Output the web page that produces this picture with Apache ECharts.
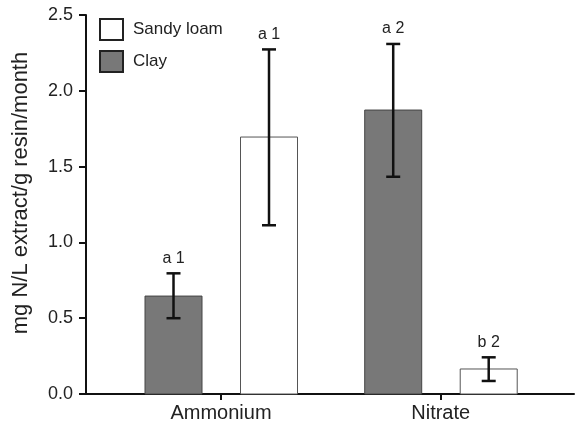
<!DOCTYPE html>
<html>
<head>
<meta charset="utf-8">
<script src="https://cdn.jsdelivr.net/npm/echarts@6/dist/echarts.min.js"></script>
<style>html,body{margin:0;padding:0;background:#fff}#c{width:576px;height:426px}</style>
</head>
<body>
<div id="c"></div>
<script>
var categories = ['Ammonium', 'Nitrate'];
var clayValues = [0.646, 1.873];
var clayLow = [0.50, 1.433];
var clayHigh = [0.796, 2.309];
var clayLetters = ['a 1', 'a 2'];
var sandyValues = [1.695, 0.165];
var sandyLow = [1.113, 0.086];
var sandyHigh = [2.273, 0.242];
var sandyLetters = ['a 1', 'b 2'];
var yTicks = [0, 0.5, 1.0, 1.5, 2.0, 2.5];

var FONT = 'Liberation Sans, Arial, sans-serif';
var BAR_W = 57;

function barData(vals) { return vals.map(function (v, i) { return [i + 1, v]; }); }
function errData(lo, hi, letters) { return lo.map(function (l, i) { return [i + 1, l, hi[i], letters[i]]; }); }

function makeBarRender(offset, fill, stroke) {
  return function (params, api) {
    var base = api.coord([api.value(0), 0]);
    var top = api.coord([api.value(0), api.value(1)]);
    return {
      type: 'rect',
      shape: { x: base[0] + offset - BAR_W / 2, y: top[1], width: BAR_W, height: base[1] - top[1] },
      style: { fill: fill, stroke: stroke, lineWidth: 1 }
    };
  };
}
function makeErrRender(offset) {
  return function (params, api) {
    var lo = api.coord([api.value(0), api.value(1)]);
    var hi = api.coord([api.value(0), api.value(2)]);
    var x = lo[0] + offset;
    var cap = 7;
    var ls = { stroke: '#111', lineWidth: 2.5 };
    return {
      type: 'group',
      children: [
        { type: 'line', shape: { x1: x, y1: lo[1], x2: x, y2: hi[1] }, style: ls },
        { type: 'line', shape: { x1: x - cap, y1: lo[1], x2: x + cap, y2: lo[1] }, style: ls },
        { type: 'line', shape: { x1: x - cap, y1: hi[1], x2: x + cap, y2: hi[1] }, style: ls },
        { type: 'text', style: { text: api.value(3), x: x, y: hi[1] - 7, align: 'center', verticalAlign: 'bottom', fill: '#222', font: '16px ' + FONT } }
      ]
    };
  };
}

var chart = echarts.init(document.getElementById('c'), null, { renderer: 'canvas' });
chart.setOption({
  animation: false,
  backgroundColor: '#fff',
  textStyle: { fontFamily: FONT },
  grid: { left: 86, right: 2, top: 15, bottom: 32 },
  legend: {
    orient: 'vertical', left: 94, top: 13,
    itemWidth: 23, itemHeight: 21, itemGap: 9,
    selectedMode: false,
    textStyle: { fontSize: 17, color: '#222', fontFamily: FONT, padding: [0, 0, 0, 5] },
    data: [
      { name: 'Sandy loam', icon: 'rect', itemStyle: { color: '#fff', borderColor: '#222', borderWidth: 2 } },
      { name: 'Clay', icon: 'rect', itemStyle: { color: '#787878', borderColor: '#222', borderWidth: 2 } }
    ]
  },
  xAxis: {
    type: 'value', min: 0.3855, max: 2.6067,
    splitLine: { show: false },
    axisLine: { show: true, lineStyle: { color: '#111', width: 2 } },
    axisTick: { show: true, customValues: [1, 2], length: 6, lineStyle: { color: '#111', width: 2 } },
    axisLabel: { customValues: [1, 2], formatter: function (v) { return categories[Math.round(v) - 1]; }, fontSize: 20, color: '#222', margin: 9, fontFamily: FONT }
  },
  yAxis: {
    type: 'value', min: 0, max: 2.5, interval: 0.5,
    name: 'mg N/L extract/g resin/month', nameLocation: 'middle', nameGap: 54,
    nameTextStyle: { fontSize: 22, color: '#222', fontFamily: FONT, padding: [0, 0, 0, 23] },
    splitLine: { show: false },
    axisLine: { show: true, lineStyle: { color: '#111', width: 2 } },
    axisTick: { show: true, length: 7, lineStyle: { color: '#111', width: 2 } },
    axisLabel: { customValues: yTicks, formatter: function (v) { return v.toFixed(1); }, fontSize: 18, color: '#222', margin: 13, fontFamily: FONT }
  },
  series: [
    { name: 'Clay', type: 'custom', data: barData(clayValues), renderItem: makeBarRender(-47.5, '#787878', '#444'), encode: { x: 0, y: 1 }, z: 2 },
    { name: 'Sandy loam', type: 'custom', data: barData(sandyValues), renderItem: makeBarRender(48, '#fff', '#555'), encode: { x: 0, y: 1 }, z: 2 },
    { name: 'ClayErr', type: 'custom', data: errData(clayLow, clayHigh, clayLetters), renderItem: makeErrRender(-47.5), encode: { x: 0, y: [1, 2] }, z: 3 },
    { name: 'SandyErr', type: 'custom', data: errData(sandyLow, sandyHigh, sandyLetters), renderItem: makeErrRender(48), encode: { x: 0, y: [1, 2] }, z: 3 }
  ]
});
</script>
</body>
</html>
